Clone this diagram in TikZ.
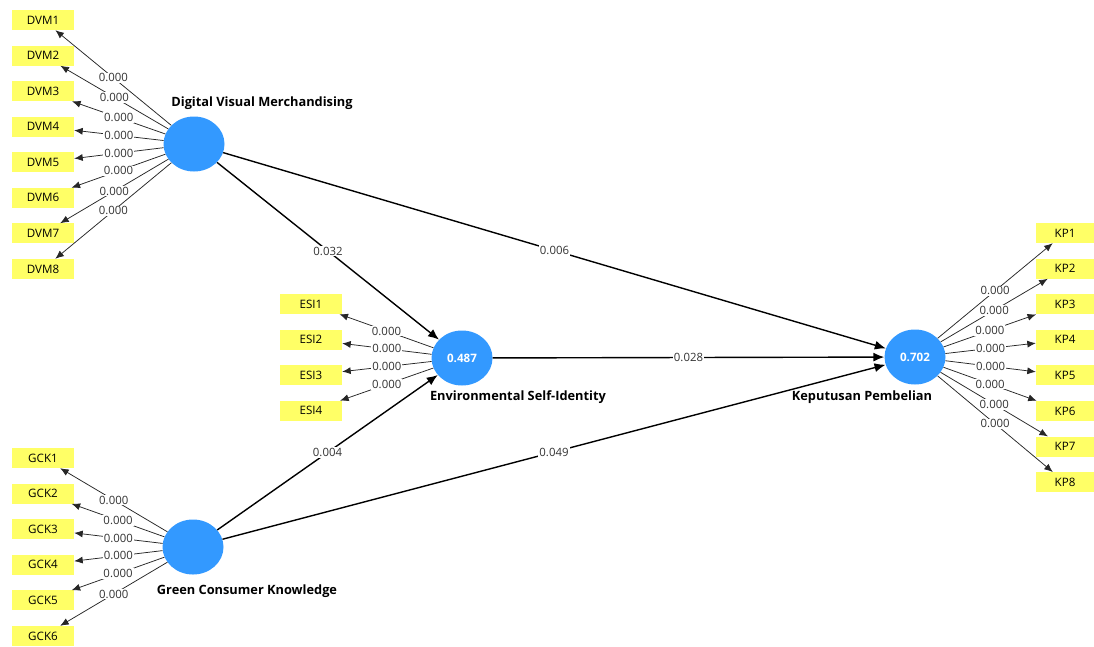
\documentclass[tikz,border=0pt]{standalone}
\usepackage{fontspec}
\setmainfont{Open Sans}
\usetikzlibrary{shapes.geometric,arrows.meta}
\definecolor{yellowbox}{HTML}{FFFF66}
\definecolor{lvblue}{HTML}{3399FF}
\begin{document}
\begin{tikzpicture}[x=1pt,y=-1pt,
  ind/.style={rectangle, fill=yellowbox, minimum width=62pt, minimum height=20pt, inner sep=0pt, font=\fontsize{11.6}{13}\selectfont},
  kpind/.style={ind, minimum width=58pt},
  lv/.style={ellipse, fill=lvblue, minimum width=61pt, minimum height=55pt, inner sep=0pt, text=white, font=\fontsize{11.6}{13}\selectfont\bfseries},
  lvname/.style={font=\fontsize{12.8}{14}\selectfont\bfseries},
  load/.style={draw=black!85, line width=0.75pt, -{Latex[length=8.5pt,width=7pt]}},
  struct/.style={draw=black, line width=1.4pt, -{Latex[length=11pt,width=9pt]}},
  wt/.style={fill=white, inner sep=1pt, font=\fontsize{11.4}{13}\selectfont, text=black!80},
]
\useasboundingbox[fill=white] (0,0) rectangle (1094,646);

% latent variables
\node[lv] (dvm) at (194,144) {};
\node[lv] (esi) at (462,358) {0.487};
\node[lv] (kp)  at (915,357) {0.702};
\node[lv] (gck) at (193,547) {};

\node[lvname] (dvmname) at (262,103) {Digital Visual Merchandising};
\node[lvname] (esiname) at (518,397) {Environmental Self-Identity};
\node[lvname] (kpname)  at (862,397) {Keputusan Pembelian};
\node[lvname] (gckname) at (247,591) {Green Consumer Knowledge};

% DVM indicators
\foreach \i in {1,...,8} {
  \node[ind] (dvm\i) at (43,{20+35.57*(\i-1)}) {DVM\i};
  \draw[load] (dvm) -- node[wt]{0.000} (dvm\i);
}
% ESI indicators
\foreach \i in {1,...,4} {
  \node[ind] (esi\i) at (311,{304+35.6*(\i-1)}) {ESI\i};
  \draw[load] (esi) -- node[wt]{0.000} (esi\i);
}
% GCK indicators
\foreach \i in {1,...,6} {
  \node[ind] (gck\i) at (43,{458+35.6*(\i-1)}) {GCK\i};
  \draw[load] (gck) -- node[wt]{0.000} (gck\i);
}
% KP indicators
\foreach \i in {1,...,8} {
  \node[kpind] (kp\i) at (1065,{233+35.6*(\i-1)}) {KP\i};
  \draw[load] (kp) -- node[wt]{0.000} (kp\i);
}

% structural paths
\draw[struct] (dvm) -- node[wt]{0.032} (esi);
\draw[struct] (dvm) -- node[wt]{0.006} (kp);
\draw[struct] (esi) -- node[wt]{0.028} (kp);
\draw[struct] (gck) -- node[wt]{0.004} (esi);
\draw[struct] (gck) -- node[wt]{0.049} (kp);
\end{tikzpicture}
\end{document}
